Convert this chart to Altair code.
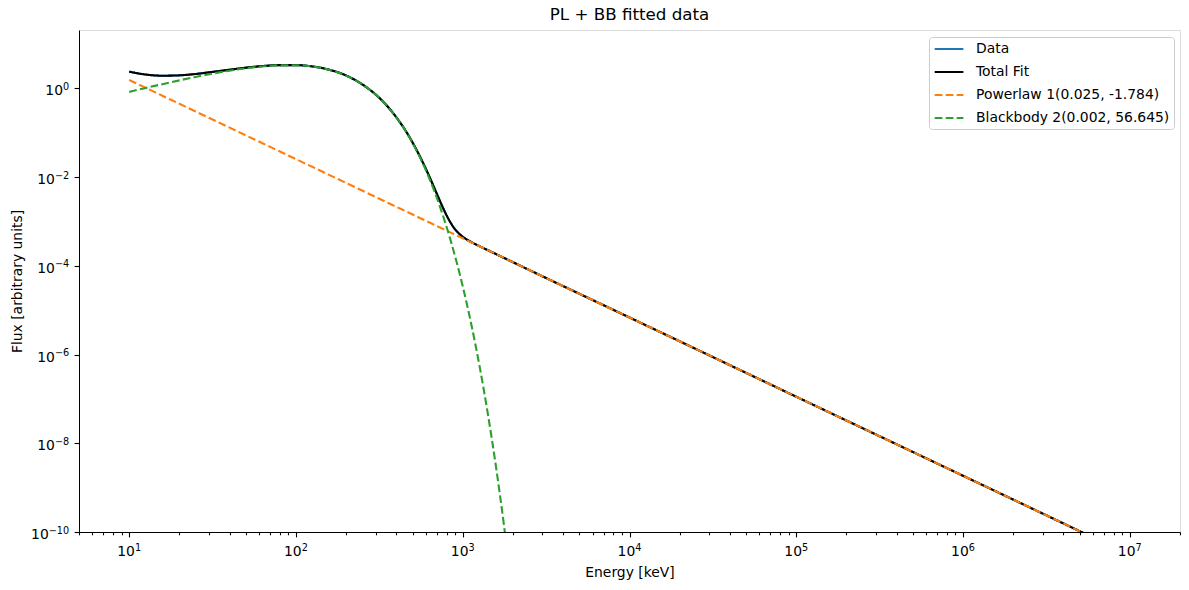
import altair as alt
import pandas as pd

SERIES = ["Data", "Total Fit", "Powerlaw 1(0.025, -1.784)", "Blackbody 2(0.002, 56.645)"]
COLORS = ["#1f77b4", "#000000", "#ff7f0e", "#2ca02c"]
DASHES = [[1, 0], [1, 0], [7.7, 3.3], [7.7, 3.3]]

# Energy grid (keV)
energy = [10, 12.6, 15.8, 20, 25, 31.6, 40, 50, 63, 79, 100, 126, 158, 200, 251, 316,
          355, 398, 447, 501, 562, 596, 631, 668, 707, 750, 794, 841, 891, 944, 1000,
          1059, 1122, 1259, 1413, 1585, 1778, 1995]
energy_tail = [1e4, 1e5, 1e6, 1e7]

blackbody = [0.83, 1.02, 1.24, 1.51, 1.80, 2.14, 2.49, 2.82, 3.11, 3.29, 3.30, 3.08, 2.62,
             1.93, 1.21, 0.606, 0.383, 0.225, 0.120, 0.058, 0.0248, 0.0153, 9.25e-3,
             5.4e-3, 3.04e-3, 1.6e-3, 8.24e-4, 4.03e-4, 1.87e-4, 8.3e-5, 3.46e-5, 1.37e-5,
             5.06e-6, 5.7e-7, 4.7e-8, 2.85e-9, 1.18e-10, 3e-12]

powerlaw = [1.54, 1.02, 0.680, 0.447, 0.300, 0.198, 0.130, 0.0871, 0.0577, 0.0385, 0.0253,
            0.0168, 0.0112, 7.34e-3, 4.90e-3, 3.25e-3, 2.64e-3, 2.15e-3, 1.75e-3, 1.43e-3,
            1.16e-3, 1.05e-3, 9.46e-4, 8.53e-4, 7.7e-4, 6.95e-4, 6.28e-4, 5.66e-4, 5.1e-4,
            4.61e-4, 4.16e-4, 3.76e-4, 3.39e-4, 2.76e-4, 2.25e-4, 1.83e-4, 1.49e-4, 1.21e-4]
powerlaw_tail = [6.84e-6, 1.12e-7, 1.85e-9, 3.04e-11]

total_fit = [2.37, 2.04, 1.92, 1.96, 2.10, 2.34, 2.62, 2.91, 3.17, 3.33, 3.33, 3.10, 2.63,
             1.94, 1.21, 0.609, 0.386, 0.227, 0.122, 0.0594, 0.0260, 0.0164, 0.0102,
             6.25e-3, 3.81e-3, 2.30e-3, 1.45e-3, 9.69e-4, 6.97e-4, 5.44e-4, 4.51e-4,
             3.90e-4, 3.44e-4, 2.77e-4, 2.25e-4, 1.83e-4, 1.49e-4, 1.21e-4]
total_tail = [6.84e-6, 1.12e-7, 1.85e-9, 3.04e-11]

data_flux = total_fit
data_tail = total_tail

# Tick labels (powers of ten)
x_label_exps = [1, 2, 3, 4, 5, 6, 7]
y_label_exps = [0, -2, -4, -6, -8, -10]

rows = []
def add(name, xs, ys):
    for i, (x, y) in enumerate(zip(xs, ys)):
        rows.append({"series": name, "energy": x, "flux": y, "idx": i})

add(SERIES[0], energy + energy_tail, data_flux + data_tail)
add(SERIES[1], energy + energy_tail, total_fit + total_tail)
add(SERIES[2], energy + energy_tail, powerlaw + powerlaw_tail)
add(SERIES[3], energy, blackbody)
df = pd.DataFrame(rows)

FONT = "DejaVu Sans"
FS = 13.9
SFS = 9.7

def exp_text(k):
    return str(k).replace("-", "\u2212")

xlab = pd.DataFrame({"energy": [10.0 ** k for k in x_label_exps],
                     "exp": [exp_text(k) for k in x_label_exps]})
ylab = pd.DataFrame({"flux": [10.0 ** k for k in y_label_exps],
                     "exp": [exp_text(k) for k in y_label_exps],
                     "grp": [len(exp_text(k)) for k in y_label_exps]})

x_ticks = []
for d in range(0, 8):
    for m in range(1, 10):
        v = m * 10 ** d
        if 5 <= v <= 2e7:
            x_ticks.append(v)
y_ticks = [10.0 ** k for k in y_label_exps]

is_major = "abs(log(datum.value)/LN10 - round(log(datum.value)/LN10)) < 0.001"

x_axis = alt.Axis(values=x_ticks, labels=False, title="Energy [keV]",
                  grid=False, titleFont=FONT, titleFontSize=FS, titleFontWeight="normal",
                  titleColor="black", domainColor="black",
                  tickColor="black", tickWidth=1.1,
                  tickSize={"condition": {"test": is_major, "value": 4.9}, "value": 2.8},
                  titlePadding=28)
y_axis = alt.Axis(values=y_ticks, labels=False,
                  title="Flux [arbitrary units]", grid=False,
                  titleFont=FONT, titleFontSize=FS,
                  titleFontWeight="normal", titleColor="black",
                  domainColor="black", tickColor="black", tickWidth=1.1, tickSize=4.9,
                  titlePadding=49)

legend = alt.Legend(title=None, orient="none", legendX=850, legendY=7,
                    symbolType="M-0.9,0H3.2", symbolSize=196, symbolStrokeWidth=2,
                    labelFont=FONT, labelFontSize=FS, labelColor="black",
                    labelOffset=27, rowPadding=8, padding=4, fillColor="white",
                    strokeColor="#cccccc", cornerRadius=3, labelLimit=400)

xscale = alt.Scale(type="log", domain=[5.0, 2.0e7], nice=False)
yscale = alt.Scale(type="log", domain=[1e-10, 20.6], nice=False)

base = alt.Chart(df).mark_line(clip=True, strokeWidth=2.1, interpolate="monotone").encode(
    x=alt.X("energy:Q", scale=xscale, axis=x_axis),
    y=alt.Y("flux:Q", scale=yscale, axis=y_axis),
    color=alt.Color("series:N", scale=alt.Scale(domain=SERIES, range=COLORS), legend=legend),
    strokeDash=alt.StrokeDash("series:N", scale=alt.Scale(domain=SERIES, range=DASHES), legend=legend),
    order="idx:Q",
)

layers = [base.transform_filter(alt.datum.series == s) for s in SERIES]

# x tick labels: "10" + superscript, centred on the tick
DIG = 0.636
w10 = 2 * DIG * FS
wexp = DIG * SFS
half = (w10 + wexp) / 2
xl_base = alt.Chart(xlab).mark_text(font=FONT, fontSize=FS, color="black", align="right",
                                    baseline="alphabetic", dx=w10 - half, dy=24).encode(
    x=alt.X("energy:Q", scale=xscale), y=alt.value(502), text=alt.value("10"))
xl_exp = alt.Chart(xlab).mark_text(font=FONT, fontSize=SFS, color="black", align="left",
                                   baseline="alphabetic", dx=w10 - half, dy=18.5).encode(
    x=alt.X("energy:Q", scale=xscale), y=alt.value(502), text="exp:N")
layers += [xl_base, xl_exp]

# y tick labels: right aligned against the ticks
MINUS = 0.838
right = -9.8
for n in sorted(set(ylab["grp"])):
    ew = (DIG * (n - 1) + MINUS) * SFS if n > 1 else DIG * SFS
    sub = ylab[ylab["grp"] == n]
    layers.append(alt.Chart(sub).mark_text(font=FONT, fontSize=FS, color="black", align="right",
                                           baseline="alphabetic", dx=right - ew, dy=7).encode(
        y=alt.Y("flux:Q", scale=yscale), x=alt.value(0), text=alt.value("10")))
    layers.append(alt.Chart(sub).mark_text(font=FONT, fontSize=SFS, color="black", align="right",
                                           baseline="alphabetic", dx=right, dy=1.5).encode(
        y=alt.Y("flux:Q", scale=yscale), x=alt.value(0), text="exp:N"))

chart = alt.layer(*layers).properties(
    width=1101, height=502,
    title=alt.Title("PL + BB fitted data", font=FONT, fontSize=16.7, fontWeight="normal",
                    color="black", offset=6),
    autosize=alt.AutoSizeParams(type="none"),
    padding={"left": 79, "top": 30, "right": 9, "bottom": 58},
).configure_view(stroke="black", strokeWidth=1.1).configure(background="white")

chart.save("out.html", embed_options={"renderer": "svg", "actions": False})
